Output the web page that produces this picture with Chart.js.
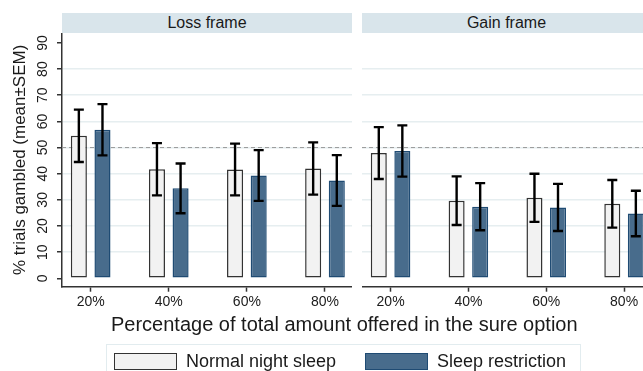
<!DOCTYPE html>
<html>
<head>
<meta charset="utf-8">
<script src="https://cdn.jsdelivr.net/npm/chart.js@4"></script>
<style>
  body { margin: 0; background: #fff; }
  #wrap { position: relative; width: 643px; height: 371px; overflow: hidden; font-family: "Liberation Sans", Arial, sans-serif; color: #1a1a1a; }
  .strip { position: absolute; top: 13px; height: 20px; background: #d9e5eb; font-size: 16px; line-height: 20px; text-align: center; }
  canvas { position: absolute; top: 33px; }
  #xtitle { position: absolute; left: 111px; top: 312px; font-size: 20px; line-height: 24px; white-space: nowrap; }
  #legend { position: absolute; left: 106px; top: 344px; width: 475px; height: 40px; border: 1px solid #e2ecef; box-sizing: border-box; }
  .sw { position: absolute; top: 8px; width: 63px; height: 17px; box-sizing: border-box; border: 1.5px solid #333; }
  .lt { position: absolute; top: 5px; font-size: 18px; line-height: 22px; white-space: nowrap; }
</style>
</head>
<body>
<div id="wrap">
  <div class="strip" style="left:62px;width:290px">Loss frame</div>
  <div class="strip" style="left:362px;width:289px">Gain frame</div>
  <canvas id="loss" width="352" height="280" style="left:0"></canvas>
  <canvas id="gain" width="289" height="280" style="left:362px"></canvas>
  <div id="xtitle">Percentage of total amount offered in the sure option</div>
  <div id="legend">
    <div class="sw" style="left:7px;background:#f2f2f2"></div>
    <div class="lt" style="left:79px">Normal night sleep</div>
    <div class="sw" style="left:258px;background:#486c8c;border-color:#1f4b73"></div>
    <div class="lt" style="left:330px">Sleep restriction</div>
  </div>
</div>
<script>
const xLabels = ['20%', '40%', '60%', '80%'];
const yTicks = [0, 10, 20, 30, 40, 50, 60, 70, 80, 90];
const refLine = 50;

// mean and SEM, % of trials gambled
const lossNormal = [54.5, 41.7, 41.6, 42.0];
const lossNormalSem = [10.0, 10.0, 9.9, 10.0];
const lossRestricted = [56.8, 34.4, 39.3, 37.4];
const lossRestrictedSem = [9.8, 9.5, 9.7, 9.7];

const gainNormal = [47.9, 29.7, 30.8, 28.5];
const gainNormalSem = [9.9, 9.3, 9.2, 9.1];
const gainRestricted = [48.7, 27.4, 27.1, 24.8];
const gainRestrictedSem = [9.8, 9.0, 9.0, 8.7];

const axisColor = '#333';
const gridColor = '#e6eef0';

// dashed reference line behind the bars, SEM whiskers on top
const errorBars = {
  id: 'errorBars',
  beforeDatasetsDraw(chart) {
    const ctx = chart.ctx, area = chart.chartArea;
    const y = chart.scales.y.getPixelForValue(refLine);
    ctx.save();
    ctx.strokeStyle = '#9a9a9a';
    ctx.lineWidth = 1;
    ctx.setLineDash([4, 3]);
    ctx.beginPath();
    ctx.moveTo(area.left, y);
    ctx.lineTo(area.right, y);
    ctx.stroke();
    ctx.restore();
  },
  afterDatasetsDraw(chart) {
    const ctx = chart.ctx, ys = chart.scales.y;
    ctx.save();
    ctx.strokeStyle = '#000';
    ctx.lineWidth = 2.4;
    chart.data.datasets.forEach(function (ds, i) {
      chart.getDatasetMeta(i).data.forEach(function (bar, j) {
        const m = ds.data[j].y, s = ds.sem[j];
        const top = ys.getPixelForValue(m + s);
        const bot = ys.getPixelForValue(m - s);
        ctx.beginPath();
        ctx.moveTo(bar.x, top); ctx.lineTo(bar.x, bot);
        ctx.moveTo(bar.x - 5, top); ctx.lineTo(bar.x + 5, top);
        ctx.moveTo(bar.x - 5, bot); ctx.lineTo(bar.x + 5, bot);
        ctx.stroke();
      });
    });
    ctx.restore();
  }
};

function points(values) {
  return values.map(function (v, i) { return { x: i, y: v }; });
}

function makePanel(id, normal, normalSem, restricted, restrictedSem, showY) {
  return new Chart(document.getElementById(id), {
    type: 'bar',
    data: {
      datasets: [{
        label: 'Normal night sleep',
        data: points(normal),
        sem: normalSem,
        backgroundColor: '#f2f2f2',
        borderColor: '#333',
        borderWidth: 1.5,
        borderSkipped: false
      }, {
        label: 'Sleep restriction',
        data: points(restricted),
        sem: restrictedSem,
        backgroundColor: '#486c8c',
        borderColor: '#1f4b73',
        borderWidth: 1.5,
        borderSkipped: false
      }]
    },
    options: {
      responsive: false,
      animation: false,
      devicePixelRatio: 1,
      layout: { padding: 0 },
      datasets: { bar: { categoryPercentage: 0.605, barPercentage: 0.68 } },
      plugins: { legend: { display: false }, tooltip: { enabled: false } },
      scales: {
        x: {
          type: 'linear',
          offset: false,
          min: -0.367,
          max: 3.346,
          afterBuildTicks: function (axis) { axis.ticks = xLabels.map(function (l, i) { return { value: i }; }); },
          afterFit: function (axis) { axis.height = 26.3; axis.paddingLeft = 0; axis.paddingRight = 0; },
          border: { display: true, color: axisColor, width: 1.5 },
          grid: { offset: false, drawOnChartArea: false, drawTicks: true, tickLength: 5, color: axisColor, tickColor: axisColor, tickWidth: 1.5 },
          ticks: {
            padding: 2,
            color: '#1a1a1a',
            font: { family: 'Liberation Sans', size: 14 },
            maxRotation: 0,
            callback: function (v) { return xLabels[v]; }
          }
        },
        y: {
          min: -3.2,
          max: 93.8,
          afterBuildTicks: function (axis) { axis.ticks = yTicks.map(function (v) { return { value: v }; }); },
          afterFit: function (axis) { axis.width = showY ? 62 : 0; axis.paddingTop = 0; axis.paddingBottom = 0; },
          border: { display: showY, color: axisColor, width: 1.5 },
          grid: {
            drawTicks: showY,
            tickLength: 5,
            lineWidth: 1.5,
            tickWidth: 1.5,
            color: function (c) { return (c.tick && (c.tick.value === 0 || c.tick.value === 90)) ? 'rgba(0,0,0,0)' : gridColor; },
            tickColor: axisColor
          },
          ticks: {
            display: showY,
            minRotation: 90,
            maxRotation: 90,
            crossAlign: 'center',
            padding: 6,
            color: '#1a1a1a',
            font: { family: 'Liberation Sans', size: 14 }
          },
          title: {
            display: showY,
            text: '% trials gambled (mean±SEM)',
            color: '#1a1a1a',
            font: { family: 'Liberation Sans', size: 17 },
            padding: { top: 10, bottom: 0 }
          }
        }
      }
    },
    plugins: [errorBars]
  });
}

makePanel('loss', lossNormal, lossNormalSem, lossRestricted, lossRestrictedSem, true);
makePanel('gain', gainNormal, gainNormalSem, gainRestricted, gainRestrictedSem, false);
</script>
</body>
</html>
